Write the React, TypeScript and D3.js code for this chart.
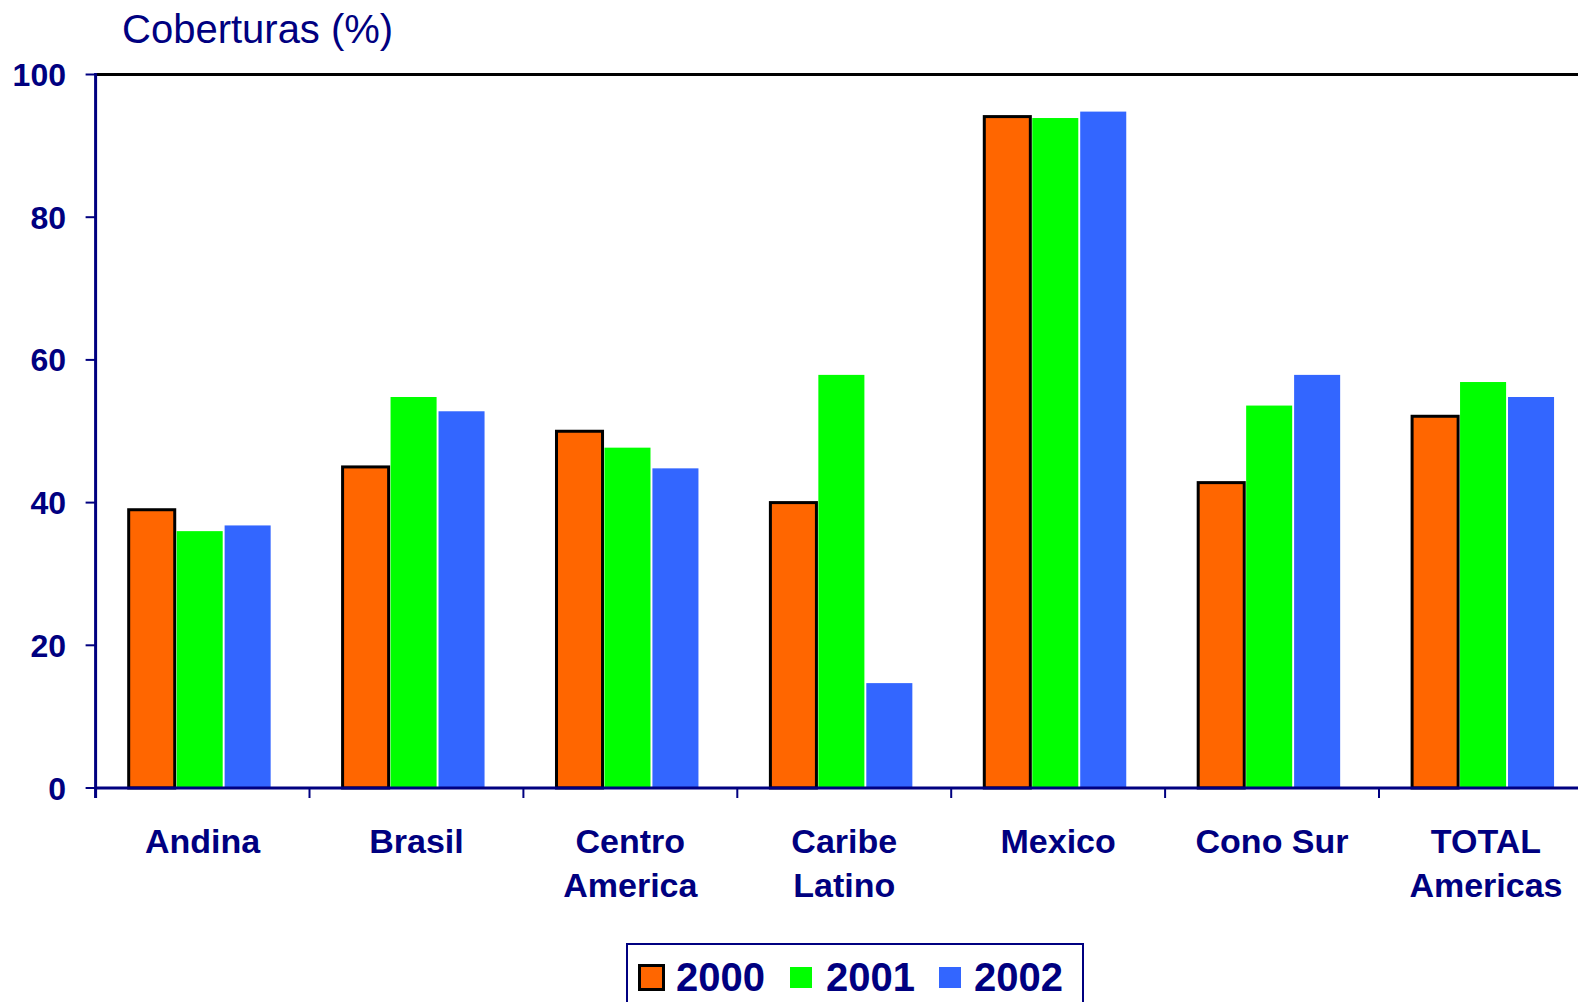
import React from "react";
import * as d3 from "d3";

const width = 1578;
const height = 1002;

// categories (each label may wrap to two lines)
const categories = ["Andina", "Brasil", "Centro America", "Caribe Latino", "Mexico", "Cono Sur", "TOTAL Americas"];
const categoryLines = [["Andina"], ["Brasil"], ["Centro", "America"], ["Caribe", "Latino"], ["Mexico"], ["Cono Sur"], ["TOTAL", "Americas"]];

const years = ["2000", "2001", "2002"];
const values2000 = [39, 45, 50, 40, 94.1, 42.8, 52.1];
const values2001 = [36, 54.8, 47.7, 57.9, 93.9, 53.6, 56.9];
const values2002 = [36.8, 52.8, 44.8, 14.7, 94.8, 57.9, 54.8];
const yTicks = [0, 20, 40, 60, 80, 100];

const colors = ["#FF6600", "#00FF00", "#3366FF"];
const navy = "#000080";
const font = "'Liberation Sans', Arial, sans-serif";

const left = 95.6;
const top = 74.5;
const bottom = 788;
const right = left + 7 * 213.9; // plot runs off the right edge

const App: React.FC = () => {
  const series = [values2000, values2001, values2002];

  const x = d3.scaleBand<string>().domain(categories).range([left, right]).padding(0);
  const xInner = d3
    .scaleBand<string>()
    .domain(years)
    .range([0, x.bandwidth()])
    .paddingInner(0.04)
    .paddingOuter(0.75)
    .align(0.46);
  const y = d3.scaleLinear().domain([0, 100]).range([bottom, top]);

  return (
    <svg
      width={width}
      height={height}
      style={{ position: "absolute", left: 0, top: 0, background: "#fff", overflow: "hidden" }}
    >
      <rect width={width} height={height} fill="#fff" />

      {/* title */}
      <text x={122} y={43} fill={navy} fontFamily={font} fontSize={40}>
        Coberturas (%)
      </text>

      {/* top frame line */}
      <line x1={left} x2={width} y1={y(100)} y2={y(100)} stroke="#000" strokeWidth={3} />

      {/* bars */}
      {series.map((vals, si) =>
        vals.map((v, ci) => (
          <rect
            key={`${si}-${ci}`}
            x={(x(categories[ci]) as number) + (xInner(years[si]) as number)}
            y={y(v)}
            width={xInner.bandwidth()}
            height={bottom - y(v)}
            fill={colors[si]}
            stroke={si === 0 ? "#000" : "none"}
            strokeWidth={si === 0 ? 3 : 0}
          />
        ))
      )}

      {/* y axis */}
      <line x1={left} x2={left} y1={y(100) - 1.5} y2={bottom + 10} stroke={navy} strokeWidth={3} />
      {yTicks.map((t) => (
        <g key={t}>
          <line x1={left - 10} x2={left} y1={y(t)} y2={y(t)} stroke={navy} strokeWidth={2} />
          <text
            x={66}
            y={y(t)}
            dy="0.36em"
            textAnchor="end"
            fill={navy}
            fontFamily={font}
            fontWeight="bold"
            fontSize={32}
          >
            {t}
          </text>
        </g>
      ))}

      {/* x axis */}
      <line x1={left} x2={width} y1={bottom} y2={bottom} stroke={navy} strokeWidth={3} />
      {categories.map((c) => (
        <line
          key={c}
          x1={x(c) as number}
          x2={x(c) as number}
          y1={bottom}
          y2={bottom + 10}
          stroke={navy}
          strokeWidth={2}
        />
      ))}
      {categories.map((c, i) => (
        <text
          key={c}
          x={(x(c) as number) + x.bandwidth() / 2}
          y={853}
          textAnchor="middle"
          fill={navy}
          fontFamily={font}
          fontWeight="bold"
          fontSize={34}
        >
          {categoryLines[i].map((line, li) => (
            <tspan key={li} x={(x(c) as number) + x.bandwidth() / 2} dy={li === 0 ? 0 : 44}>
              {line}
            </tspan>
          ))}
        </text>
      ))}

      {/* legend */}
      <rect x={627} y={944} width={456} height={80} fill="#fff" stroke={navy} strokeWidth={2} />
      <rect x={639.5} y={965.5} width={24} height={24} fill={colors[0]} stroke="#000" strokeWidth={3} />
      <text x={676} y={991} fill={navy} fontFamily={font} fontWeight="bold" fontSize={40}>
        {years[0]}
      </text>
      <rect x={790} y={967} width={22} height={21} fill={colors[1]} />
      <text x={826} y={991} fill={navy} fontFamily={font} fontWeight="bold" fontSize={40}>
        {years[1]}
      </text>
      <rect x={939} y={967} width={22} height={21} fill={colors[2]} />
      <text x={974} y={991} fill={navy} fontFamily={font} fontWeight="bold" fontSize={40}>
        {years[2]}
      </text>
    </svg>
  );
};

export default App;
